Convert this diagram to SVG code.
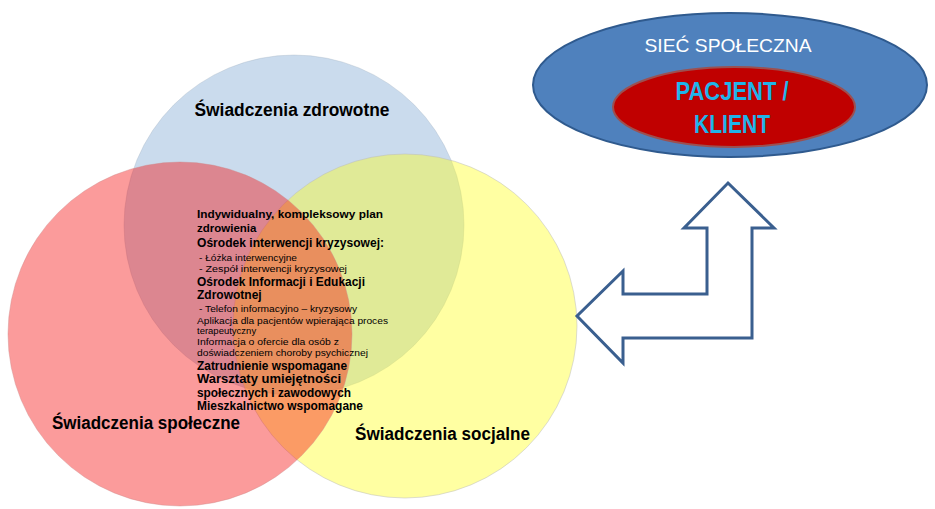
<svg xmlns="http://www.w3.org/2000/svg" width="935" height="509" viewBox="0 0 935 509">
<style>
.lbl{font-family:"Liberation Sans",Arial,sans-serif;font-weight:bold;font-size:18px;fill:#000}
.t{font-family:"Liberation Sans",Arial,sans-serif;fill:#000;font-weight:bold}
.big{font-size:12px}
.mid{font-size:11.5px}
.sm{font-size:9.5px;font-weight:normal}
.xs{font-size:8.5px;font-weight:normal}
</style>
<rect width="935" height="509" fill="#fff"/>
<g id="circle-zdrowotne">
<circle cx="294" cy="225" r="170" fill="#95b8dc" fill-opacity="0.5" stroke="#9ab" stroke-opacity="0.3"/>
<text class="lbl" x="292" y="116" text-anchor="middle" textLength="195" lengthAdjust="spacingAndGlyphs">Świadczenia zdrowotne</text>
</g>
<g id="circle-socjalne">
<circle cx="405" cy="326" r="172" fill="#ffff22" fill-opacity="0.42" stroke="#bbb" stroke-opacity="0.5"/>
</g>
<g id="circle-spoleczne">
<circle cx="180" cy="334" r="172" fill="#f51010" fill-opacity="0.42" stroke="#c88" stroke-opacity="0.4"/>
<text class="lbl" x="52" y="429" textLength="188" lengthAdjust="spacingAndGlyphs">Świadczenia społeczne</text>
</g>
<text class="lbl" x="355" y="440" textLength="175" lengthAdjust="spacingAndGlyphs">Świadczenia socjalne</text>
<g id="center-text">
<text class="t mid" x="197" y="218" textLength="186" lengthAdjust="spacingAndGlyphs">Indywidualny,  kompleksowy plan</text>
<text class="t mid" x="197" y="232">zdrowienia</text>
<text class="t big" x="197" y="247" textLength="187" lengthAdjust="spacingAndGlyphs">Ośrodek interwencji kryzysowej:</text>
<text class="t xs" x="199" y="261" textLength="98" lengthAdjust="spacingAndGlyphs"> - Łóżka interwencyjne</text>
<text class="t xs" x="199" y="272" textLength="148" lengthAdjust="spacingAndGlyphs"> - Zespół interwencji kryzysowej</text>
<text class="t big" x="197" y="286" font-weight="normal" textLength="168" lengthAdjust="spacingAndGlyphs">Ośrodek Informacji i Edukacji</text>
<text class="t big" x="197" y="299" font-weight="normal">Zdrowotnej</text>
<text class="t xs" x="199" y="312" textLength="158" lengthAdjust="spacingAndGlyphs"> - Telefon informacyjno – kryzysowy</text>
<text class="t sm" x="197" y="324" textLength="191" lengthAdjust="spacingAndGlyphs">Aplikacja dla pacjentów wpierająca   proces</text>
<text class="t sm" x="197" y="334">terapeutyczny</text>
<text class="t sm" x="197" y="345" textLength="142" lengthAdjust="spacingAndGlyphs">Informacja o ofercie dla osób z</text>
<text class="t sm" x="197" y="356" textLength="171" lengthAdjust="spacingAndGlyphs">doświadczeniem choroby psychicznej</text>
<text class="t big" x="197" y="370" textLength="150" lengthAdjust="spacingAndGlyphs">Zatrudnienie wspomagane</text>
<text class="t big" x="197" y="383" textLength="144" lengthAdjust="spacingAndGlyphs">Warsztaty umiejętności</text>
<text class="t big" x="197" y="397" textLength="154" lengthAdjust="spacingAndGlyphs">społecznych i  zawodowych</text>
<text class="t big" x="197" y="410" textLength="166" lengthAdjust="spacingAndGlyphs">Mieszkalnictwo wspomagane</text>
</g>
<g id="siec-spoleczna">
<ellipse cx="730" cy="85" rx="197" ry="72" fill="#4f81bd" stroke="#2f5a8e" stroke-width="2"/>
<text x="728" y="52" text-anchor="middle" font-family="'Liberation Sans',Arial,sans-serif" font-size="18" fill="#fff" textLength="167" lengthAdjust="spacingAndGlyphs">SIEĆ SPOŁECZNA</text>
</g>
<g id="pacjent-klient">
<ellipse cx="734" cy="107" rx="121" ry="40" fill="#c00000" stroke="#9c5050" stroke-width="2"/>
<text x="732" y="100" text-anchor="middle" font-family="'Liberation Sans',Arial,sans-serif" font-weight="bold" font-size="25" fill="#1fb4ea" textLength="113" lengthAdjust="spacingAndGlyphs">PACJENT /</text>
<text x="732" y="133" text-anchor="middle" font-family="'Liberation Sans',Arial,sans-serif" font-weight="bold" font-size="25" fill="#1fb4ea" textLength="76" lengthAdjust="spacingAndGlyphs">KLIENT</text>
</g>
<g id="connectors">
<path d="M728,183 L774,228 L752,228 L752,338 L623,338 L623,363 L577,316 L623,271 L623,294 L707,294 L707,228 L684,228 Z" fill="#fff" stroke="#3a5f8f" stroke-width="3" stroke-linejoin="miter"/>
</g>
</svg>
